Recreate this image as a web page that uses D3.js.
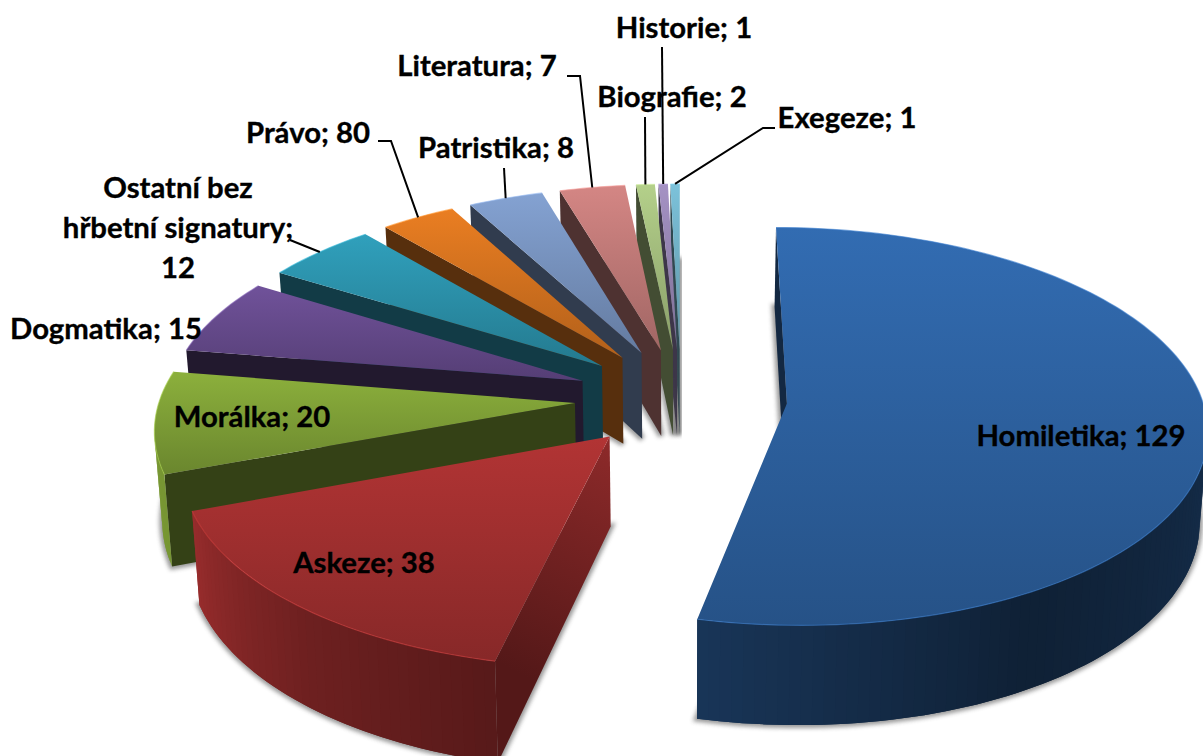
<!DOCTYPE html>
<html lang="cs">
<head>
  <meta charset="UTF-8">
  <title>Signatury</title>
  <style>
    html, body { margin: 0; background: #fff; }
    svg { display: block; }
    text { font-family: Lato, "Open Sans", sans-serif; font-weight: 700; font-size: 29.3px; fill: #000; stroke: #000; stroke-width: 0.35px; }
  </style>
</head>
<body>
  <svg id="svg" width="1203" height="756"></svg>

  <script src="https://d3js.org/d3.v7.min.js"></script>
  <script>
    const categories = ['Homiletika', 'Askeze', 'Morálka', 'Dogmatika', 'Ostatní bez hřbetní signatury', 'Právo', 'Patristika', 'Literatura', 'Biografie', 'Historie', 'Exegeze']
    // the slice for Právo is drawn about as big as Patristika even though its label says 80
    const sliceValues = [129, 38, 20, 15, 12, 8, 8, 7, 2, 1, 1]
    const labelValues = [129, 38, 20, 15, 12, 80, 8, 7, 2, 1, 1]
    const colors = ['#326cb2', '#b23434', '#8cb03c', '#70529a', '#30a0bc', '#ea7e22', '#84a2d2', '#d48684', '#b4d08a', '#a592c4', '#7cc2da']

    // label lines, x is the middle of the text, y the first baseline
    const labelLines = [
      ['Homiletika; 129'], ['Askeze; 38'], ['Morálka; 20'], ['Dogmatika; 15'],
      ['Ostatní bez', 'hřbetní signatury;', '12'], ['Právo; 80'], ['Patristika; 8'],
      ['Literatura; 7'], ['Biografie; 2'], ['Historie; 1'], ['Exegeze; 1']
    ]
    const labelX = [1081, 364, 252, 106, 178, 308, 496, 477, 672, 684, 847]
    const labelY = [446, 573, 427, 339, 198, 143, 158, 76, 107, 38, 128]
    // leader start points [x, y, elbowX, elbowY], null = label sits on the slice
    const leaders = [null, null, null, null, [290, 240, 290, 240], [378, 141, 391, 141], [504, 168, 504, 168], [567, 76, 580, 76], [645, 117, 645, 117], [662, 47, 662, 47], [775, 128, 763, 128]]

    const cx = 681, cy = 398   // centre of the unexploded pie
    const rx = 415, ry = 195   // radii of the ellipse
    const horizon = 1700       // perspective strength
    const depth = 88           // thickness of the pie
    const explode = 0.256

    const svg = d3.select('#svg')
    const defs = svg.append('defs')

    defs.append('filter').attr('id', 'blur')
      .attr('x', '-20%').attr('y', '-20%').attr('width', '140%').attr('height', '140%')
      .append('feGaussianBlur').attr('stdDeviation', 2.2)

    const pie = d3.pie().sort(null).startAngle(0).endAngle(2 * Math.PI)
    const arcs = pie(sliceValues)

    // wall brightness depending on where the rim faces
    const wallShade = d3.scaleLinear()
      .domain([0, 90, 150, 190, 220, 250, 280, 360].map(d => d * Math.PI / 180))
      .range([0.45, 0.43, 0.3, 0.48, 0.62, 0.85, 0.9, 0.9])

    const shade = (color, k) => {
      const c = d3.rgb(color)
      return d3.rgb(c.r * k, c.g * k, c.b * k).formatHex()
    }

    const project = (X, Y, z) => {
      const f = 1 / (1 + Y / horizon)
      return [cx + X * f * (1 - z * 0.015), cy - Y * f + z * depth * f]
    }

    const planePoint = (slice, a, r) => {
      const mid = (slice.startAngle + slice.endAngle) / 2
      return [
        explode * rx * Math.sin(mid) + r * rx * Math.sin(a),
        explode * ry * Math.cos(mid) + r * ry * Math.cos(a)
      ]
    }

    const rimAngles = slice => {
      const steps = Math.max(2, Math.ceil((slice.endAngle - slice.startAngle) / 0.025))
      return d3.range(steps + 1).map(i => slice.startAngle + (slice.endAngle - slice.startAngle) * i / steps)
    }

    const line = d3.line()
    const closed = pts => line(pts) + 'Z'

    // clockwise on screen = facing the viewer
    const facing = pts => d3.polygonArea(pts) > 0

    const addFace = (group, pts, fill) => {
      if (!facing(pts)) return
      group.append('path').attr('d', closed(pts)).attr('fill', fill)
    }

    // back slices first, the big ones lie on top of them
    arcs.map((slice, i) => ({ slice, i })).reverse().forEach(({ slice, i }) => {
      const g = svg.append('g').attr('class', 'slice')
      const color = colors[i]
      const angles = rimAngles(slice)
      const rim = angles.map(a => planePoint(slice, a, 1))
      const apex = planePoint(slice, 0, 0)
      const top = pts => pts.map(p => project(p[0], p[1], 0))
      const bottom = pts => pts.map(p => project(p[0], p[1], 1))

      // soft shadow: the bottom face blurred
      g.append('path')
        .attr('d', closed(bottom([apex, ...rim])))
        .attr('fill', '#555').attr('stroke', '#555').attr('stroke-width', 6)
        .attr('opacity', 0.6).attr('filter', 'url(#blur)')

      const first = rim[0], last = rim[rim.length - 1]

      // cut faces
      const startFace = [...top([apex, first]), ...bottom([first, apex])]
      const endFace = [...top([last, apex]), ...bottom([apex, last])]
      let startFill = shade(color, i === 3 ? 0.3 : 0.37)
      if (i === 1) {
        const [ax, ay] = project(apex[0], apex[1], 0)
        const [bx, by] = project(first[0], first[1], 0)
        const grad = defs.append('linearGradient').attr('id', 'face' + i)
          .attr('gradientUnits', 'userSpaceOnUse')
          .attr('x1', ax).attr('y1', ay).attr('x2', bx).attr('y2', by)
        grad.append('stop').attr('offset', 0).attr('stop-color', shade(color, 0.8))
        grad.append('stop').attr('offset', 1).attr('stop-color', shade(color, 0.47))
        startFill = `url(#face${i})`
      }
      addFace(g, startFace, startFill)
      addFace(g, endFace, shade(color, 0.4))

      // outer wall, one quad per step so the colour can change along the rim
      // each quad reaches over the next step so no seams show
      d3.pairs(d3.range(rim.length)).forEach(([a, b]) => {
        const c = Math.min(b + 1, rim.length - 1)
        if (!facing([...top([rim[a], rim[b]]), ...bottom([rim[b], rim[a]])])) return
        const quad = [...top([rim[a], rim[b], rim[c]]), ...bottom([rim[c], rim[b], rim[a]])]
        const midAngle = (angles[a] + angles[b]) / 2
        g.append('path').attr('d', closed(quad)).attr('fill', shade(color, wallShade(midAngle)))
      })

      // top face
      const grad = defs.append('linearGradient').attr('id', 'top' + i)
        .attr('x1', 0).attr('y1', 0).attr('x2', 0).attr('y2', 1)
      grad.append('stop').attr('offset', 0).attr('stop-color', color)
      grad.append('stop').attr('offset', 1).attr('stop-color', shade(color, 0.76))
      const topPts = top([apex, ...rim])
      g.append('path').attr('d', closed(topPts)).attr('fill', `url(#top${i})`)

      // thin light bevel along the rim
      g.append('path').attr('d', line(top(rim)))
        .attr('fill', 'none').attr('stroke', d3.rgb(color).brighter(0.4))
        .attr('stroke-width', 1.2).attr('opacity', 0.6)
    })

    // leader lines
    const midRim = slice => {
      const p = planePoint(slice, (slice.startAngle + slice.endAngle) / 2, 1)
      return project(p[0], p[1], 0)
    }
    arcs.forEach((slice, i) => {
      if (!leaders[i]) return
      const [x0, y0, x1, y1] = leaders[i]
      svg.append('path')
        .attr('d', line([[x0, y0], [x1, y1], midRim(slice)]))
        .attr('fill', 'none').attr('stroke', '#000').attr('stroke-width', 2)
    })

    // labels
    const labels = svg.selectAll('text.label')
      .data(categories)
      .join('text')
      .attr('class', 'label')
      .attr('data-value', (d, i) => labelValues[i])
      .attr('text-anchor', 'middle')

    labels.each(function (d, i) {
      d3.select(this).selectAll('tspan')
        .data(labelLines[i])
        .join('tspan')
        .attr('x', labelX[i])
        .attr('y', (t, k) => labelY[i] + k * 40)
        .text(t => t)
    })
  </script>
</body>
</html>
